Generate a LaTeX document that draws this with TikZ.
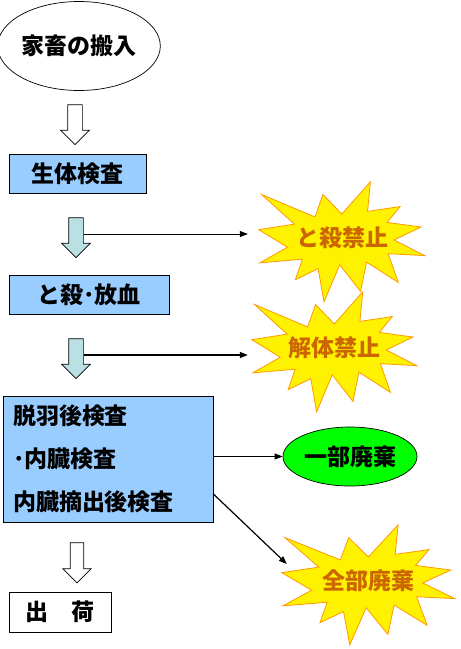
\documentclass[tikz,border=0pt]{standalone}
\usepackage{fontspec}
\setmainfont{Noto Sans CJK JP}
\usepackage{tikz}
\usetikzlibrary{arrows.meta,shapes.geometric,shapes.arrows}
\definecolor{boxblue}{RGB}{153,204,255}
\definecolor{flowcyan}{RGB}{187,224,227}
\definecolor{burstedge}{RGB}{255,153,0}
\definecolor{burstword}{RGB}{204,102,0}
\definecolor{partgreen}{RGB}{0,255,0}

% outline of the explosion shape, in a 216 x 216 frame
\newcommand\burstpoly{(108,58) -- (145.22,0) -- (141.55,53.25) -- (183.80,44.57)
  -- (167.02,73.15) -- (210.97,81.37) -- (176.07,104.75) -- (216,132.90)
  -- (168.37,129.42) -- (181.45,180.95) -- (140.20,144.57) -- (132.47,197.37)
  -- (105.32,149.35) -- (84.85,216) -- (77.15,156.27) -- (47.62,176.17)
  -- (56.67,139.37) -- (1.35,145.87) -- (37.22,117.75) -- (0,86.15)
  -- (46.27,76.17) -- (3.70,22.95) -- (73.12,63.20) -- (83.52,22.95) -- cycle}

\newcommand\burst[5]{%
  \node[burstbox,minimum width=#3pt,minimum height=#4pt] (#1) at (#2) {};
  \begin{scope}[shift={(#1.north west)},xscale=#3/216,yscale=#4/216]
    \draw[burstshape] \burstpoly;
  \end{scope}
  \node[burstlabel] (#1-text) at ([yshift=4pt]#1.center) {#5};
}

\begin{document}
\begin{tikzpicture}[
    x=1pt,y=-1pt,
    font=\fontsize{23}{27}\selectfont\bfseries,
    stepbox/.style={draw,line width=0.8pt,fill=boxblue,minimum height=39pt,inner sep=0pt},
    flow/.style={single arrow,draw,line width=0.7pt,shape border rotate=270,
      minimum height=40pt,minimum width=28pt,single arrow head extend=7pt,
      single arrow head indent=0pt,inner sep=0pt},
    burstbox/.style={inner sep=0pt},
    burstshape/.style={draw=burstedge,fill=yellow,line width=0.8pt},
    burstlabel/.style={text=burstword},
    conn/.style={-{Triangle[length=8pt,width=6pt]},line width=0.7pt}
  ]
    \useasboundingbox (0,0) rectangle (461,649);

    \node[ellipse,draw,line width=0.7pt,minimum width=158pt,minimum height=89pt,
      inner sep=0pt] (arrival) at (79,46) {家畜の搬入};
    \node[flow,fill=white] (flow1) at (75,121) {\phantom{\rule{14pt}{14pt}}};
    \node[stepbox,minimum width=137pt] (live) at (77.5,173.5) {生体検査};
    \node[flow,fill=flowcyan] (flow2) at (76,234) {\phantom{\rule{14pt}{14pt}}};
    \node[stepbox,minimum width=160pt] (slaughter) at (89,294.5) {と殺･放血};
    \node[flow,fill=flowcyan] (flow3) at (76,355) {\phantom{\rule{14pt}{14pt}}};
    \node[stepbox,minimum width=210pt,minimum height=126pt,align=left,
      text width=190pt,inner xsep=10pt] (check) at (108,459)
      {脱羽後検査\\[16pt]･内臓検査\\[16pt]内臓摘出後検査};
    \node[flow,fill=white] (flow4) at (77,559.5) {\phantom{\rule{12pt}{12pt}}};
    \node[stepbox,fill=white,minimum width=102pt,minimum height=40pt] (ship) at (60,612) {出　荷};

    \burst{stop1}{342,242}{166}{120}{と殺禁止}
    \burst{stop2}{334.5,352}{165}{120}{解体禁止}
    \burst{whole}{368.5,585}{173}{120}{全部廃棄}
    \node[ellipse,draw,line width=0.7pt,fill=partgreen,minimum width=134pt,
      minimum height=59pt,inner sep=0pt] (part) at (350,456.5) {一部廃棄};

    \draw[conn] (flow2.east) -- ([xshift=-11pt]stop1.west |- flow2.east);
    \draw[conn,line width=1.4pt] (flow3.east) -- ([xshift=-4pt]stop2.west |- flow3.east);
    \draw[conn] (check.east |- part.west) -- (part.west);
    \draw[conn,line width=1.2pt] ([yshift=-35pt]check.east) -- ([xshift=5pt,yshift=21pt]whole.west);
  \end{tikzpicture}
\end{document}
